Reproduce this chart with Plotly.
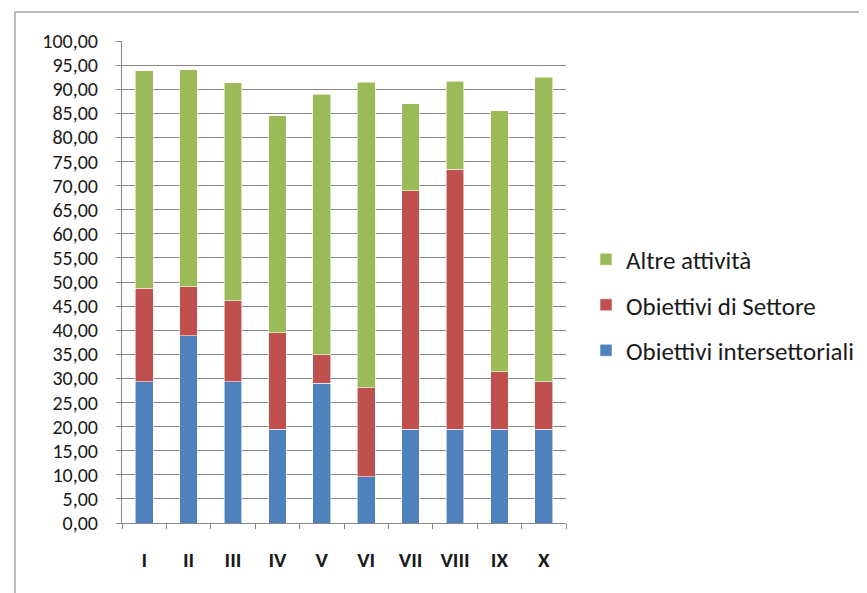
import plotly.graph_objects as go

categories = ["I", "II", "III", "IV", "V", "VI", "VII", "VIII", "IX", "X"]
intersettoriali = [29.3, 38.9, 29.3, 19.4, 29.0, 9.6, 19.4, 19.4, 19.4, 19.4]
settore_top = [48.7, 49.0, 46.1, 39.5, 34.9, 28.1, 68.9, 73.4, 31.4, 29.3]
totale = [93.8, 94.0, 91.3, 84.5, 89.0, 91.4, 87.0, 91.6, 85.5, 92.5]

settore = [round(s - b, 2) for s, b in zip(settore_top, intersettoriali)]
altre = [round(t - s, 2) for t, s in zip(totale, settore_top)]

FONT = "Carlito, Calibri, Lato, sans-serif"
edge = dict(color="rgba(255,255,255,0.7)", width=0.8)

fig = go.Figure()
fig.add_trace(go.Bar(x=categories, y=intersettoriali, name="Obiettivi intersettoriali",
                     marker=dict(color="#4F81BD", line=edge), legendrank=3, legendgroup="c"))
fig.add_trace(go.Bar(x=categories, y=settore, name="Obiettivi di Settore",
                     marker=dict(color="#C0504D", line=edge), legendrank=2, legendgroup="b"))
fig.add_trace(go.Bar(x=categories, y=altre, name="Altre attività",
                     marker=dict(color="#9BBB59", line=edge), legendrank=1, legendgroup="a"))

W, H = 867, 593
OFF = 8  # default page body margin
L, R, T, B = 122, 566, 41, 523
pw, ph = R - L, B - T
FW, FH = W - OFF, H - OFF

fig.update_layout(
    width=FW, height=FH,
    margin=dict(l=L - OFF, r=FW - (R - OFF), t=T - OFF, b=FH - (B - OFF), autoexpand=False),
    barmode="stack", bargap=0.6,
    separators=", ",
    plot_bgcolor="white", paper_bgcolor="white",
    font=dict(family=FONT, color="#1a1a1a"),
    legend=dict(x=(586 - L) / pw, y=(B - 305) / ph, xanchor="left", yanchor="middle",
                traceorder="grouped", tracegroupgap=10,
                font=dict(size=25, family=FONT, color="#1a1a1a"),
                itemwidth=30),
    xaxis=dict(type="category", showgrid=False, showline=True, linecolor="#868686",
               linewidth=1, ticks="outside", tickson="boundaries", ticklen=5,
               tickcolor="#868686", ticklabelstandoff=18,
               tickfont=dict(size=21, family=FONT, color="#1a1a1a", weight="bold")),
    yaxis=dict(range=[0, 100], dtick=5, tickformat=".2f", showgrid=True,
               gridcolor="#868686", gridwidth=1, showline=True, linecolor="#868686",
               linewidth=1, ticks="outside", ticklen=5, tickcolor="#868686",
               ticklabelstandoff=14, zeroline=False,
               tickfont=dict(size=20, family=FONT, color="#1a1a1a")),
    shapes=[dict(type="rect", xref="paper", yref="paper",
                 x0=(15 - L) / pw, x1=(W + 20 - L) / pw,
                 y0=(B - (H + 20)) / ph, y1=(B - 12) / ph,
                 line=dict(color="#A6A6A6", width=1.5), layer="below")],
)

fig.write_html(
    "out.html",
    post_script="document.documentElement.style.overflow='hidden';document.body.style.overflow='hidden';",
)
